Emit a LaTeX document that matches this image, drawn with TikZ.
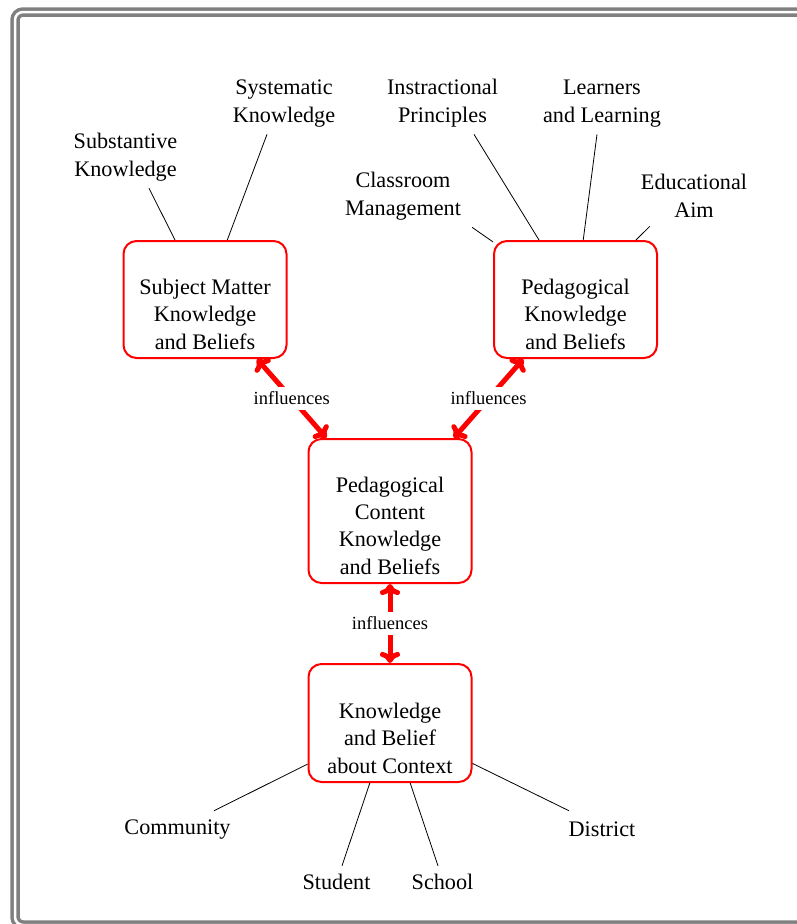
\documentclass[tikz,border=0pt]{standalone}
\usepackage{fontspec}
\setmainfont{Liberation Serif}
\usetikzlibrary{arrows.meta}

% stacked, centred lines whose baseline is the last line
\newcommand{\stacklines}[1]{\begin{tabular}[b]{@{}c@{}}#1\end{tabular}}

\tikzset{
  mainfont/.style={font=\fontsize{22.2}{27.2}\selectfont},
  kbox/.style={mainfont, draw=red, line width=2pt, rounded corners=13pt,
    minimum width=163pt, inner xsep=4pt, inner ysep=3pt, text depth=6pt,
    anchor=base},
  facet/.style={mainfont, inner sep=4pt, anchor=base},
  link/.style={draw=black, line width=0.8pt},
  cmtip/.tip={Computer Modern Rightarrow[length=11pt,width=20pt]},
  infl/.style={draw=red, line width=5pt, {cmtip}-{cmtip}},
  infllbl/.style={fill=white, font=\fontsize{18.5}{22}\selectfont, inner sep=5pt},
  frame/.style={draw=gray, line width=3.5pt, double=white,
    double distance=2.5pt, rounded corners=8pt},
}

\begin{document}
\begin{tikzpicture}[x=1pt, y=-1pt]
  \useasboundingbox (0,0) rectangle (797,924);

  % outer double frame
  \begin{scope}
    \clip (0,0) rectangle (797,924);
    \draw[frame] (15,12) rectangle (806,925);
  \end{scope}

  % knowledge boxes
  \node[kbox, text height=105pt] (smk) at (205,349)
    {\stacklines{Subject Matter\\Knowledge\\and Beliefs}};
  \node[kbox, text height=105pt] (pk) at (575.5,349)
    {\stacklines{Pedagogical\\Knowledge\\and Beliefs}};
  \node[kbox, text height=132pt] (pck) at (390,574)
    {\stacklines{Pedagogical\\Content\\Knowledge\\and Beliefs}};
  \node[kbox, text height=106pt] (kbc) at (390,773)
    {\stacklines{Knowledge\\and Belief\\about Context}};

  % facets of subject matter knowledge
  \node[facet] (subst) at (125.5,176) {\stacklines{Substantive\\Knowledge}};
  \node[facet] (syst)  at (284,122)   {\stacklines{Systematic\\Knowledge}};

  % facets of pedagogical knowledge
  \node[facet] (instr)  at (442.5,122) {\stacklines{Instractional\\Principles}};
  \node[facet] (learn)  at (602,122)   {\stacklines{Learners\\and Learning}};
  \node[facet] (classm) at (403,215)   {\stacklines{Classroom\\Management}};
  \node[facet] (eduaim) at (694,217)   {\stacklines{Educational\\Aim}};

  % facets of context
  \node[facet] (community) at (177.5,834) {\stacklines{Community}};
  \node[facet] (student)   at (336.5,889) {\stacklines{Student}};
  \node[facet] (school)    at (442.5,889) {\stacklines{School}};
  \node[facet] (district)  at (602,836)   {\stacklines{District}};

  % facet links
  \draw[link] ([xshift=23.5pt]subst.south) -- (smk);
  \draw[link] ([xshift=-17pt]syst.south) -- (smk);
  \draw[link] ([xshift=31.5pt]instr.south) -- (pk);
  \draw[link] ([xshift=-5pt]learn.south) -- (pk);
  \draw[link] ([xshift=7pt]classm.south east) -- (pk);
  \draw[link] ([xshift=13pt,yshift=3pt]eduaim.south west) -- (pk);
  \draw[link] ([xshift=36.5pt]community.north) -- (kbc);
  \draw[link] ([xshift=5.5pt]student.north) -- (kbc);
  \draw[link] ([xshift=-4.5pt]school.north) -- (kbc);
  \draw[link] ([xshift=-33pt,yshift=2pt]district.north) -- (kbc);

  % mutual influences
  \draw[infl] (smk) -- node[infllbl] (i1) {influences} (pck);
  \draw[infl] (pk) -- node[infllbl] (i2) {influences} (pck);
  \draw[infl] (pck) -- node[infllbl] (i3) {influences} (kbc);
\end{tikzpicture}
\end{document}
